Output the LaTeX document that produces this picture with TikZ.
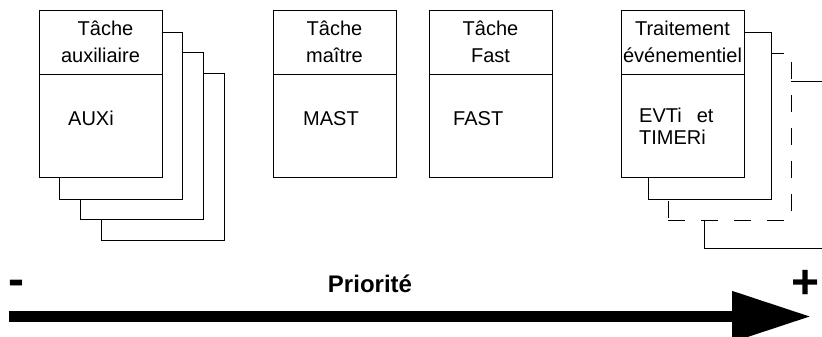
\documentclass[tikz,border=0pt]{standalone}
\usepackage{fontspec}
\setmainfont{Liberation Sans}
\usetikzlibrary{calc,arrows.meta}
\tikzset{x=1pt, y=-1pt,
    task box/.style={draw=black, fill=white, line width=0.8pt, anchor=north west,
          minimum width=123pt, minimum height=167pt, inner sep=0pt, outer sep=0pt},
    task page/.style={task box},
    dashed page/.style={task box, dash pattern=on 17pt off 16pt},
    task title/.style={align=center, font=\fontsize{20}{27}\selectfont},
    task body/.style={anchor=base west, align=left, inner sep=0pt,
          font=\fontsize{20}{22}\selectfont},
    prio sign/.style={anchor=base, inner sep=0pt, font=\fontsize{48}{48}\selectfont\bfseries},
    prio arrow/.style={line width=11pt, -{Triangle[length=79pt 0 0, width=48pt 0 0]}}
}
\def\TaskBox#1#2#3#4{%
 \node (#1) [task box] at (#2,#3) {};
 \draw[line width=0.8pt] ($(#1.north west)+(0,64)$) -- ($(#1.north east)+(0,64)$);
 \node (#1-title) [task title] at ($(#1.north)+(0,32)$) {#4};
}
\def\TaskPage#1#2#3{%
 \node (#1) [task page] at (#2,#3) {};
}

\begin{document}
\begin{tikzpicture}
\useasboundingbox (0,0) rectangle (822,337);
% auxiliary tasks
\TaskPage{aux-p4}{101}{73}
\TaskPage{aux-p3}{80}{52}
\TaskPage{aux-p2}{59}{32}
\TaskBox{aux}{39}{10}{\hspace*{10pt}Tâche\\auxiliaire}
\node (aux-body) [task body] at (68,125) {AUXi};
% master and fast
\TaskBox{mast}{273}{10}{Tâche\\maître}
\node (mast-body) [task body] at (303,125) {MAST};
\TaskBox{fast}{429}{10}{Tâche\\Fast}
\node (fast-body) [task body] at (453,125) {FAST};
% event tasks
\TaskPage{evt-p4}{704}{81}
\node (evt-p3) [dashed page] at (668,53) {};
\TaskPage{evt-p2}{648}{32}
\TaskBox{evt}{621}{10}{Traitement\\événementiel}
\node (evt-body) [task body] at (639,144) {EVTi\hspace{15pt}et\\TIMERi};
% priority
\coordinate (prio-low) at (9,316.5);
\coordinate (prio-high) at (811,316.5);
\draw[prio arrow] (prio-low) -- (prio-high);
\node (minus) [prio sign] at (16,295) {-};
\node (plus) [prio sign] at (806,298.5) {+};
\node (prio) [font=\fontsize{24}{24}\selectfont\bfseries] at (370,283.5) {Priorité};
\end{tikzpicture}
\end{document}
